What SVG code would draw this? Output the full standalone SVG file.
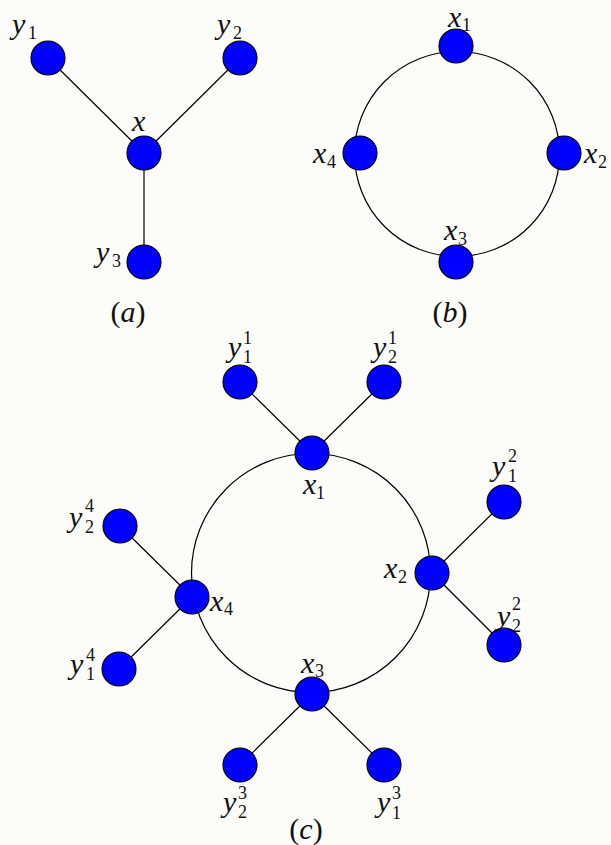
<svg xmlns="http://www.w3.org/2000/svg" width="611" height="845" viewBox="0 0 611 845">
<style>
.n{fill:#0000ff;stroke:#000;stroke-width:1.1}
.e{stroke:#000;stroke-width:1.2;fill:none}
</style>
<rect width="611" height="845" fill="#fcfcf8"/>
<g id="connectors">
<line class="e" x1="144" y1="153" x2="48" y2="58"/>
<line class="e" x1="144" y1="153" x2="240" y2="58"/>
<line class="e" x1="144" y1="153" x2="144" y2="262"/>
<circle class="e" cx="457" cy="154" r="102.5"/>
<circle class="e" cx="311" cy="573" r="119.5"/>
<line class="e" x1="312" y1="453" x2="240" y2="382"/>
<line class="e" x1="312" y1="453" x2="384" y2="382"/>
<line class="e" x1="432" y1="573" x2="504" y2="502"/>
<line class="e" x1="432" y1="573" x2="504" y2="645"/>
<line class="e" x1="312" y1="694" x2="240" y2="765"/>
<line class="e" x1="312" y1="694" x2="384" y2="765"/>
<line class="e" x1="192" y1="597" x2="120" y2="526"/>
<line class="e" x1="192" y1="597" x2="119" y2="669"/>
</g>
<g font-family="Liberation Serif, DejaVu Serif, serif" fill="#111">
<g font-style="italic" font-size="30">
<g id="a-y1"><circle class="n" cx="48" cy="58" r="17"/><text x="12" y="34">y</text></g>
<g id="a-y2"><circle class="n" cx="240" cy="58" r="17"/><text x="217" y="34">y</text></g>
<g id="a-x"><circle class="n" cx="144" cy="153" r="17"/><text x="132" y="131">x</text></g>
<g id="a-y3"><circle class="n" cx="144" cy="262" r="17"/><text x="96" y="262">y</text></g>
<g id="b-x1"><circle class="n" cx="456" cy="46" r="17"/><text x="448" y="27">x</text></g>
<g id="b-x2"><circle class="n" cx="564" cy="153" r="17"/><text x="584" y="163">x</text></g>
<g id="b-x3"><circle class="n" cx="456" cy="262" r="17"/><text x="444" y="240">x</text></g>
<g id="b-x4"><circle class="n" cx="360" cy="153" r="17"/><text x="313" y="163">x</text></g>
<g id="c-x1"><circle class="n" cx="312" cy="453" r="17"/><text x="303" y="494">x</text></g>
<g id="c-y11"><circle class="n" cx="240" cy="382" r="17"/><text x="228" y="357">y</text></g>
<g id="c-y21"><circle class="n" cx="384" cy="382" r="17"/><text x="373" y="357">y</text></g>
<g id="c-x2"><circle class="n" cx="432" cy="573" r="17"/><text x="384" y="578">x</text></g>
<g id="c-y12"><circle class="n" cx="504" cy="502" r="17"/><text x="492" y="476">y</text></g>
<g id="c-y22"><circle class="n" cx="504" cy="645" r="17"/><text x="497" y="626">y</text></g>
<g id="c-x3"><circle class="n" cx="312" cy="694" r="17"/><text x="301" y="673">x</text></g>
<g id="c-y23"><circle class="n" cx="240" cy="765" r="17"/><text x="223" y="812">y</text></g>
<g id="c-y13"><circle class="n" cx="384" cy="765" r="17"/><text x="377" y="812">y</text></g>
<g id="c-x4"><circle class="n" cx="192" cy="597" r="17"/><text x="210" y="611">x</text></g>
<g id="c-y24"><circle class="n" cx="120" cy="526" r="17"/><text x="69" y="527">y</text></g>
<g id="c-y14"><circle class="n" cx="119" cy="669" r="17"/><text x="70" y="674">y</text></g>
</g>
<g font-size="18">
<text x="28" y="39">1</text>
<text x="233" y="39">2</text>
<text x="112" y="267">3</text>
<text x="462" y="31">1</text>
<text x="598" y="168">2</text>
<text x="458" y="245">3</text>
<text x="327" y="168">4</text>
<text x="316" y="499">1</text>
<text x="243" y="344">1</text><text x="243" y="363">1</text>
<text x="388" y="344">1</text><text x="388" y="363">2</text>
<text x="398" y="583">2</text>
<text x="508" y="462">2</text><text x="508" y="482">1</text>
<text x="512" y="610">2</text><text x="512" y="632">2</text>
<text x="315" y="677">3</text>
<text x="238" y="799">3</text><text x="238" y="818">2</text>
<text x="392" y="799">3</text><text x="392" y="819">1</text>
<text x="224" y="615">4</text>
<text x="85" y="512">4</text><text x="85" y="533">2</text>
<text x="86" y="661">4</text><text x="86" y="680">1</text>
</g>
<g font-size="30">
<text x="128" y="322" text-anchor="middle">(<tspan font-style="italic">a</tspan>)</text>
<text x="450" y="322" text-anchor="middle">(<tspan font-style="italic">b</tspan>)</text>
<text x="306" y="839" text-anchor="middle">(<tspan font-style="italic">c</tspan>)</text>
</g>
</g>
</svg>
